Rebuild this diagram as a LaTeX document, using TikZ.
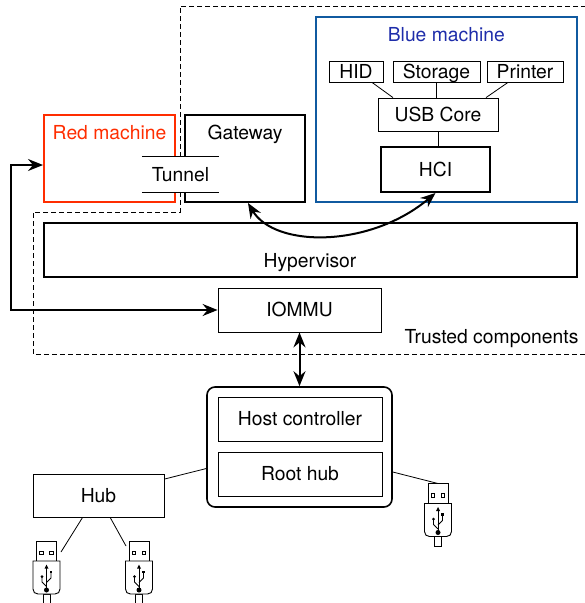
\documentclass[tikz,border=0pt]{standalone}
\usepackage{fontspec}
\setmainfont{TeX Gyre Heros}
\usetikzlibrary{arrows.meta,calc}
\definecolor{redm}{RGB}{255,45,0}
\definecolor{bluem}{RGB}{16,90,160}
\definecolor{bluet}{RGB}{30,45,170}
\tikzset{
  usbstick/.pic={
    \draw[line width=0.9pt] (-10,0) rectangle (10,20);
    \draw[line width=0.7pt] (-6.7,10.3) rectangle (-3.3,13.7);
    \draw[line width=0.7pt] (3.3,10.3) rectangle (6.7,13.7);
    \draw[line width=0.9pt] (-3.5,53) rectangle (3.5,62.5);
    \draw[line width=0.9pt,fill=white] (-13.5,20) -- (-13.5,48)
      .. controls (-13.5,51) and (-11.5,53) .. (-8.5,53) -- (8.5,53)
      .. controls (11.5,53) and (13.5,51) .. (13.5,48) -- (13.5,20) -- cycle;
    \draw[line width=0.8pt] (0,26) -- (0,49);
    \fill (0,23.5) -- (-2,27.5) -- (2,27.5) -- cycle;
    \fill (0,49) circle (2.5pt);
    \draw[line width=0.8pt] (-4.5,36) -- (-4.5,41) -- (0,45.5);
    \fill (-4.5,35.5) circle (1.5pt);
    \draw[line width=0.8pt] (4.5,32) -- (4.5,37) -- (0,41.5);
    \fill (3.2,29.7) rectangle (5.8,32.3);
    \coordinate (-r) at (14.5,11);
    \coordinate (-l) at (-13,5);
    \coordinate (-t) at (0,0);
  }
}
\begin{document}
\begin{tikzpicture}[x=1pt,y=-1pt,
  font=\fontsize{19.3}{22}\selectfont,
  box/.style={draw, line width=0.8pt, inner sep=0pt, text height=13.8pt, text depth=0pt},
  tbox/.style={box, line width=2pt},
  lbl/.style={anchor=base, inner sep=0pt},
  dbl/.style={line width=2pt, {Stealth[length=15pt,width=12pt,inset=5pt]}-{Stealth[length=15pt,width=12pt,inset=5pt]}},
  wire/.style={line width=0.8pt},
  trust/.style={dash pattern=on 5pt off 3pt, line width=0.8pt}]
\useasboundingbox (0,0) rectangle (585,603);

% trusted region
\draw[trust] (586,6) -- (180,6) -- (180,212) -- (33,212) -- (33,354) -- (586,354);

% machines
\node[draw=redm, line width=2pt, minimum width=131pt, minimum height=87pt] (red) at (109.5,158.5) {};
\node[tbox, minimum width=120pt, minimum height=87pt] (gw) at (245,158.5) {};
\node[draw=bluem, line width=2pt, minimum width=261pt, minimum height=185pt] (blue) at (446.5,109.5) {};
\node[lbl, text=redm] (redl) at (109.5,139.5) {Red machine};
\node[lbl] (gwl) at (245,139.5) {Gateway};
\node[lbl, text=bluet] (bluel) at (446.3,41.7) {Blue machine};

% tunnel
\node[fill=white, inner sep=0pt, minimum width=77pt, minimum height=35pt, text height=13.8pt, text depth=0pt] (tun) at (180.5,174.5) {Tunnel};
\draw[wire] (tun.north west) -- (tun.north east);
\draw[wire] (tun.south west) -- (tun.south east);

% blue internals
\node[box, minimum width=54pt, minimum height=21pt] (hid) at (356,71.5) {HID};
\node[box, minimum width=87pt, minimum height=21pt] (stor) at (436.5,71.5) {Storage};
\node[box, minimum width=76pt, minimum height=21pt] (prn) at (525,71.5) {Printer};
\node[box, minimum width=120pt, minimum height=33pt] (usb) at (438,114.5) {USB Core};
\node[tbox, minimum width=109pt, minimum height=45pt] (hci) at (435.5,169.5) {HCI};
\draw[wire] ($(hid.south)+(16,0)$) -- ($(usb.north)+(-45,0)$);
\draw[wire] (stor.south) -- (stor.south |- usb.north);
\draw[wire] ($(prn.south)+(-17,0)$) -- ($(usb.north)+(48,0)$);
\draw[wire] (usb.south) -- (usb.south |- hci.north);

% hypervisor, iommu
\node[tbox, minimum width=533pt, minimum height=54pt] (hv) at (310.5,250) {};
\node[lbl] (hvl) at (310,267.3) {Hypervisor};
\node[box, minimum width=163pt, minimum height=44pt] (iommu) at (299.5,310) {IOMMU};
\node[lbl] (trl) at (491.5,343.3) {Trusted components};

% arrows
\draw[dbl] ($(gw.south)+(3,0)$) .. controls (275,248) and (370,248) .. (hci.south);
\draw[dbl] ($(red.west)+(0,6.5)$) -- ++(-32,0) |- (iommu.west);

% host
\node[draw, line width=1.6pt, rounded corners=8pt, minimum width=185pt, minimum height=120pt] (host) at (299.5,447) {};
\node[box, minimum width=164pt, minimum height=44pt] (hc) at (300,419) {Host controller};
\node[box, minimum width=164pt, minimum height=44pt] (rh) at (300,474) {Root hub};
\draw[dbl] (iommu.south) -- (host.north);

% hub and sticks
\node[box, minimum width=131pt, minimum height=43pt] (hub) at (98.5,495.5) {Hub};
\pic (sa) at (46.5,541) {usbstick};
\pic (sb) at (139,541) {usbstick};
\pic (sc) at (438,483.5) {usbstick};
\draw[wire] (hub.234) -- (sa-r);
\draw[wire] (hub.-62) -- (sb-l);
\draw[wire] (hub.14) -- (host.193);
\draw[wire] (host.-15) -- (sc-t);
\end{tikzpicture}
\end{document}
